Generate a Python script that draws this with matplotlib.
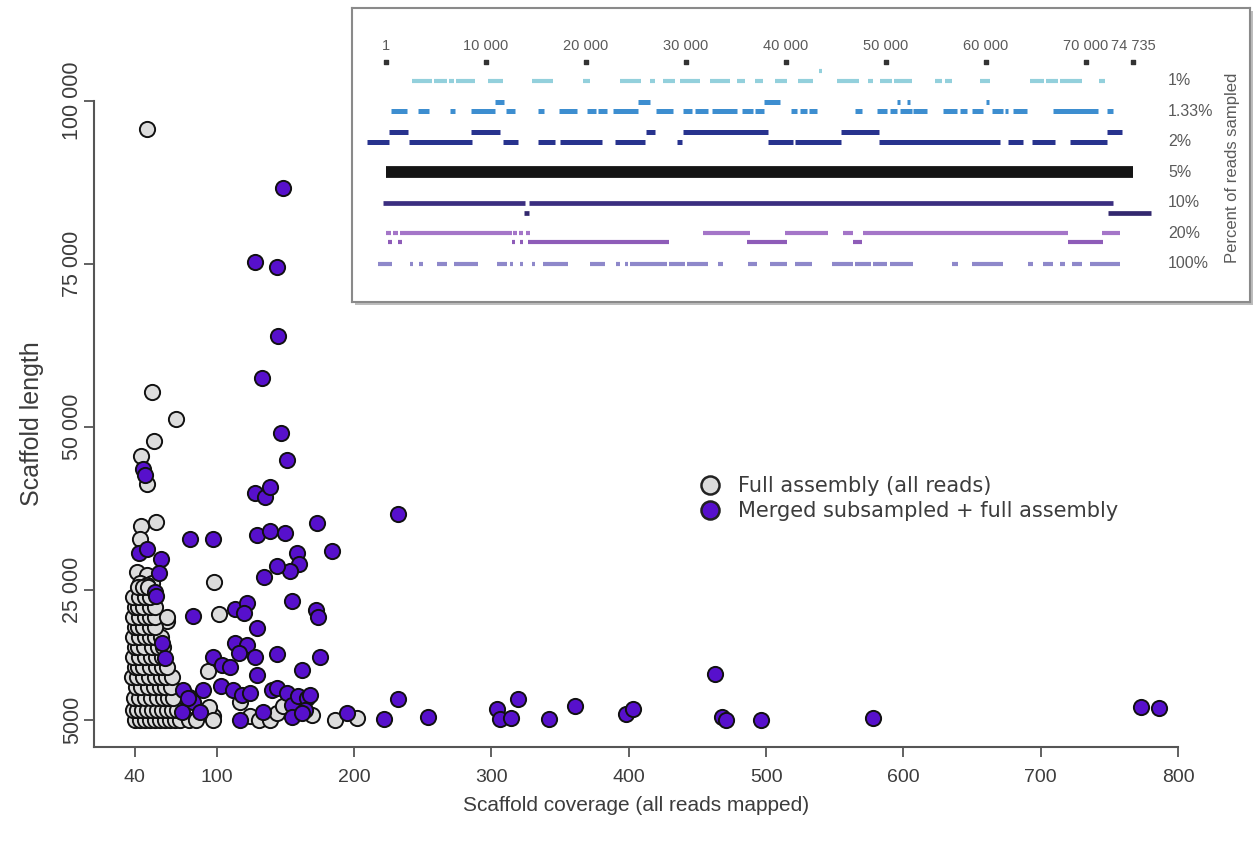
import matplotlib
matplotlib.use("Agg")
import matplotlib.pyplot as plt
from matplotlib.lines import Line2D
from matplotlib.patches import Rectangle

plt.rcParams['font.family'] = ['Liberation Sans', 'DejaVu Sans']

# ---------------- main scatter data ----------------
full_x = [49, 52.7, 70, 54, 44.5, 49, 56, 45, 44, 42, 49, 44, 52.7, 97.8, 42.5, 49,
          101.5, 64, 93.5, 80, 97, 117, 124, 131, 138.5, 143.6, 148, 169, 186, 202, 94,
          40.4, 44, 47.6, 51, 55, 58.5, 62, 66, 69.5, 73, 80, 85, 97,
          39, 42, 45.5, 49, 52.7, 56.4, 60, 63.6, 67, 71,
          39.6, 43.5, 47.6, 52, 56.4, 60.4, 64.4, 68,
          41, 45, 49.5, 54, 58.5, 62.5, 66.5,
          38, 42, 46, 50.5, 55, 59, 63, 67,
          40, 42.5, 46.5, 51, 55.5, 60, 64,
          39, 43, 47.6, 52, 56, 60,
          40, 42.5, 47, 52.7, 57, 61,
          39, 43, 47.6, 51, 55, 59,
          40, 42.5, 46.5, 51, 55,
          39, 43, 47.6, 51.5, 55, 64,
          40, 42.5, 46.5, 51, 55,
          39, 43, 47.6, 51,
          42.5, 46, 50]
full_y = [95700, 55300, 51200, 47800, 45500, 41200, 35400, 34800, 32800, 27700, 27200, 26000, 26000, 26200, 24500, 25700,
          21300, 20200, 12500, 8500, 5600, 7700, 5600, 5000, 5000, 6100, 7100, 5800, 5000, 5300, 7000,
          5000, 5000, 5000, 5000, 5000, 5000, 5000, 5000, 5000, 5000, 5000, 5000, 5000,
          6500, 6500, 6500, 6500, 6500, 6500, 6500, 6500, 6500, 6500,
          8400, 8400, 8400, 8400, 8400, 8400, 8400, 8400,
          10100, 10100, 10100, 10100, 10100, 10100, 10100,
          11600, 11600, 11600, 11600, 11600, 11600, 11600, 11600,
          13100, 13100, 13100, 13100, 13100, 13100, 13100,
          14700, 14700, 14700, 14700, 14700, 14700,
          16200, 16200, 16200, 16200, 16200, 16200,
          17700, 17700, 17700, 17700, 17700, 17700,
          19300, 19300, 19300, 19300, 19300,
          20800, 20800, 20800, 20800, 20800, 20800,
          22300, 22300, 22300, 22300, 22300,
          23900, 23900, 23900, 23900,
          25400, 25400, 25400]

merged_x = [148, 127.6, 143.6, 144.4, 132.7, 146.5, 151, 46, 47.6, 128, 135, 139,
            172.7, 231.6, 80.4, 97, 129, 138.5, 149.5, 183.6, 43, 49, 59, 58,
            158, 159.6, 153, 144, 134, 55, 155, 172, 174, 82.5, 113, 122, 120,
            129, 113, 122, 116, 127.6, 144, 175, 97, 103.6, 109.5, 129, 162,
            103, 111.6, 118, 124, 75, 89.8, 82.5, 87.6, 74.5, 79, 62, 60, 56,
            140, 144, 151, 155, 159, 165.5, 167.6, 164, 155, 162, 117, 133.5,
            194.5, 221.6, 231.6, 254, 304, 306, 314.5, 319, 342, 361, 398, 403,
            463, 468, 471, 496, 578, 773, 786]
merged_y = [86600, 75300, 74600, 63900, 57500, 49000, 44900, 43500, 42600, 39800, 39200, 40700,
            35200, 36600, 32800, 32800, 33400, 34000, 33700, 30900, 30600, 31200, 29700, 27500,
            30600, 28900, 27900, 28600, 26900, 24600, 23300, 21900, 20800, 21000, 22000, 22900, 21400,
            19100, 16800, 16500, 15300, 14700, 15100, 14700, 14700, 13400, 13100, 11900, 12700,
            10200, 9600, 8800, 9100, 9600, 9600, 7800, 6200, 6200, 8400, 14500, 16800, 24000,
            9600, 9900, 9100, 7300, 8700, 8400, 8800, 6500, 5500, 6100, 5000, 6200,
            6100, 5150, 8200, 5500, 6700, 5150, 5300, 8200, 5150, 7150, 5900, 6700,
            12000, 5500, 5000, 5000, 5300, 7000, 6850]

x_ticks = [40, 100, 200, 300, 400, 500, 600, 700, 800]
y_ticks = [5000, 25000, 50000, 75000, 100000]
y_ticklabels = ['5000', '25 000', '50 000', '75 000', '100 000']

# ---------------- inset data (scaffold positions) ----------------
inset_ticks = [1, 10000, 20000, 30000, 40000, 50000, 60000, 70000, 74735]
inset_ticklabels = ['1', '10 000', '20 000', '30 000', '40 000', '50 000', '60 000', '70 000', '74 735']
row_labels = ['1%', '1.33%', '2%', '5%', '10%', '20%', '100%']

seg_1 = [(2600, 4600), (4800, 6100), (6300, 6800), (7000, 8900), (10200, 11700), (14600, 16700),
         (19700, 20400), (23400, 25500), (26400, 26900), (27700, 28900), (29400, 31400),
         (32400, 34400), (35100, 35900), (36900, 37700), (38900, 40100), (41200, 42700),
         (45100, 47300), (48200, 48700), (49400, 50600), (50800, 52600), (54900, 55600),
         (55900, 56600), (59400, 60400), (64400, 65800), (66000, 67200), (67400, 69600),
         (71300, 71900)]
seg_1_alt = [(43300, 43600)]

seg_133 = [(500, 2100), (3200, 4300), (6400, 6900), (8500, 10900), (12000, 12900), (15200, 15800),
           (17300, 19100), (20100, 21000), (21200, 22100), (22700, 25200), (27000, 28700),
           (29700, 30600), (30900, 32200), (32600, 35100), (35600, 36700), (36900, 37800),
           (40500, 41100), (41400, 42100), (42300, 43100), (46900, 47600), (49100, 50100),
           (50400, 51100), (51400, 52600), (52700, 54100), (55700, 57100), (57400, 58100),
           (58600, 59700), (60600, 61700), (61900, 62200), (62700, 64100), (66700, 71200),
           (72100, 72700)]
seg_133_alt = [(10900, 11800), (25200, 26400), (37800, 39400), (51100, 51400), (52100, 52400),
               (60000, 60300)]

seg_2 = [(-1900, 300), (2300, 8600), (11700, 13200), (15200, 16900), (17400, 21600), (22900, 25900),
         (29100, 29600), (38200, 40700), (40900, 45500), (49300, 61400), (62200, 63700),
         (64600, 66900), (68400, 72100)]
seg_2_alt = [(300, 2200), (8500, 11400), (26000, 26900), (29700, 38200), (45500, 49300), (72100, 73600)]

seg_5 = [(1, 74735)]
seg_5_alt = []

seg_10 = [(-300, 13900), (14300, 72700)]
seg_10_alt = [(13800, 14300), (72200, 76500)]

seg_20 = [(0, 500), (700, 1200), (1400, 12600), (12700, 13100), (13300, 13700), (14000, 14400),
          (31700, 36400), (39900, 44200), (45700, 46700), (47700, 68200), (71600, 73400)]
seg_20_alt = [(200, 600), (1200, 1600), (12600, 12900), (13400, 13700), (14200, 28300),
              (36100, 40100), (46700, 47600), (68200, 71700)]

seg_100 = [(-800, 600), (2400, 2700), (3300, 3700), (5100, 6100), (6800, 9200), (11100, 12100),
           (12400, 12700), (13400, 13700), (14600, 14900), (15700, 18200), (20400, 21900),
           (23000, 23400), (23900, 24200), (24400, 28100), (28300, 29900), (30100, 32200),
           (33200, 33700), (36200, 37100), (38400, 40100), (40900, 42600), (44600, 46700),
           (46900, 48500), (48700, 50100), (50400, 52700), (56600, 57200), (58600, 61700),
           (64200, 64700), (65700, 66700), (67400, 67900), (68600, 69600), (70400, 73400)]
seg_100_alt = []

rows = [seg_1, seg_133, seg_2, seg_5, seg_10, seg_20, seg_100]
rows_alt = [seg_1_alt, seg_133_alt, seg_2_alt, seg_5_alt, seg_10_alt, seg_20_alt, seg_100_alt]
alt_offset = [-0.33, -0.3, -0.33, 0, 0.33, 0.28, 0]
row_colors = ['#93d0dc', '#3d8ed0', '#28338e', '#141414', '#3b2e80', '#a475c8', '#8e88ca']
alt_colors = ['#93d0dc', '#3d8ed0', '#28338e', '#141414', '#33286e', '#8e5cb8', '#8e88ca']
row_widths = [3.0, 3.6, 3.6, 8.5, 3.4, 3.0, 3.0]

W, H = 1254, 847
fig = plt.figure(figsize=(W / 100, H / 100), dpi=100)
text_col = '#3c3c3c'
gray_fill = '#dcdcdc'
purple_fill = '#5710cc'

ax = fig.add_axes([94 / W, 1 - 747 / H, (1178 - 94) / W, (747 - 101) / H])
ax.scatter(full_x, full_y, s=120, facecolor=gray_fill, edgecolor='#111111', linewidth=1.4, zorder=3)
ax.scatter(merged_x, merged_y, s=120, facecolor=purple_fill, edgecolor='#111111', linewidth=1.4, zorder=4)
ax.set_xlim(10.5, 800)
ax.set_ylim(858, 100000)
for sp in ['top', 'right']:
    ax.spines[sp].set_visible(False)
for sp in ['left', 'bottom']:
    ax.spines[sp].set_color('#555555')
    ax.spines[sp].set_linewidth(1.5)
ax.set_xticks(x_ticks)
ax.set_xticklabels([str(v) for v in x_ticks])
ax.set_yticks(y_ticks)
ax.set_yticklabels(y_ticklabels, rotation=90, va='center')
ax.tick_params(axis='both', direction='out', length=7, width=1.3, color='#555555',
               labelcolor=text_col)
ax.tick_params(axis='x', pad=9, labelsize=14)
ax.tick_params(axis='y', pad=1, labelsize=15.5)
ax.set_xlabel('Scaffold coverage (all reads mapped)', fontsize=15, color=text_col, labelpad=7)
ax.set_ylabel('Scaffold length', fontsize=18, color=text_col, labelpad=13)

handles = [Line2D([], [], ls='none', marker='o', markersize=13, markerfacecolor=gray_fill,
                  markeredgecolor='#222222', markeredgewidth=1.8),
           Line2D([], [], ls='none', marker='o', markersize=13, markerfacecolor=purple_fill,
                  markeredgecolor='#222222', markeredgewidth=1.8)]
ax.legend(handles, ['Full assembly (all reads)', 'Merged subsampled + full assembly'],
          loc='upper left', bbox_to_anchor=((690 - 94) / (1178 - 94), (747 - 466) / (747 - 101)),
          frameon=False, handlelength=0.9, handletextpad=0.9, borderpad=0,
          labelspacing=0.22, labelcolor=text_col, prop={'family': 'DejaVu Sans', 'size': 15})

# ---------------- inset ----------------
shadow = Rectangle((355 / W, 1 - 305 / H), 898 / W, 294 / H, transform=fig.transFigure,
                   facecolor='#bdbdbd', edgecolor='none', zorder=5)
fig.patches.append(shadow)
ins = fig.add_axes([352 / W, 1 - 302 / H, 898 / W, 294 / H], zorder=6)
ins.set_facecolor('white')
for sp in ins.spines.values():
    sp.set_color('#8a8a8a')
    sp.set_linewidth(1.5)
ins.set_xlim(-3400, 86400)
ins.set_ylim(7.25, -2.39)
ins.set_xticks([])
ins.set_yticks([])

inset_text = '#5a5a5a'
for i, (segs, alts) in enumerate(zip(rows, rows_alt)):
    if segs:
        ins.hlines([i] * len(segs), [a for a, b in segs], [b for a, b in segs],
                   color=row_colors[i], lw=row_widths[i], capstyle='butt')
    if alts:
        ins.hlines([i + alt_offset[i]] * len(alts), [a for a, b in alts], [b for a, b in alts],
                   color=alt_colors[i], lw=row_widths[i], capstyle='butt')
    ins.text(78200, i, row_labels[i], fontsize=11.5, color=inset_text, ha='left', va='center')

ins.scatter(inset_ticks, [-0.62] * len(inset_ticks), s=5, color='#333333', marker='s')
for t, lab in zip(inset_ticks, inset_ticklabels):
    ins.text(t, -1.15, lab, fontsize=10.5, color=inset_text, ha='center', va='center')
ins.text(84700, 2.85, 'Percent of reads sampled', rotation=90, fontsize=12, color=inset_text,
         ha='center', va='center')

fig.savefig('out.png', dpi=100)
